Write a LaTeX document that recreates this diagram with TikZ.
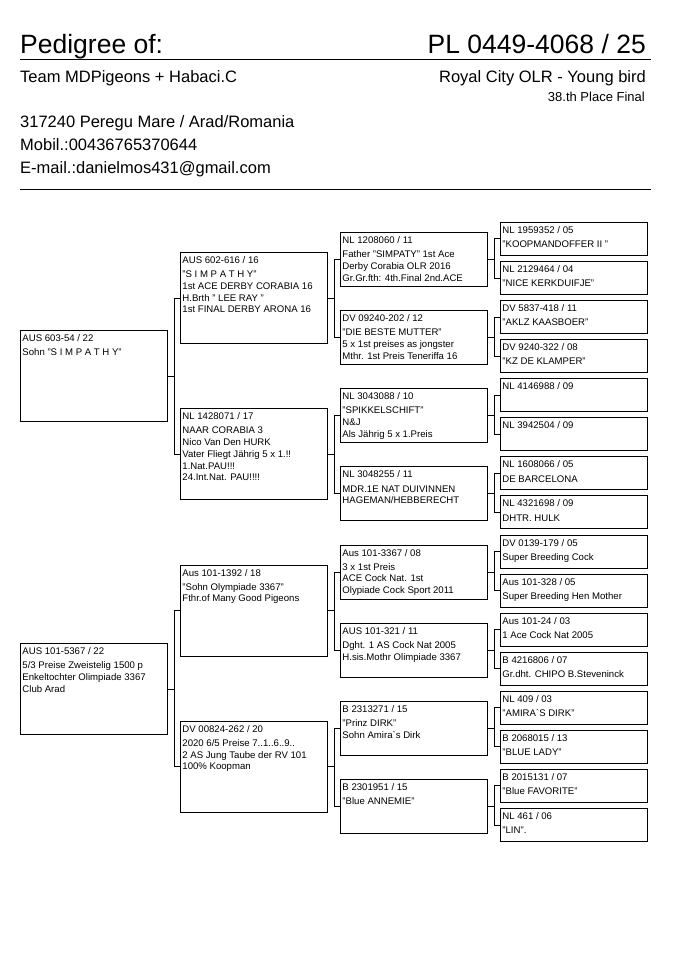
\documentclass[tikz,border=0pt]{standalone}
\usepackage{fontspec}
\setmainfont{Liberation Sans}
\usetikzlibrary{positioning}

\begin{document}
\begin{tikzpicture}[x=1pt,y=-1pt,
  bird/.style={draw, line width=0.9pt, inner xsep=2pt, inner ysep=0pt, anchor=north west,
    font=\fontsize{9.6}{11.7}\selectfont,
    execute at begin node={\begin{minipage}[c][#1][t]{143pt}\raggedright\rule{0pt}{11pt}},
    execute at end node={\end{minipage}}},
  gen1/.style={bird=91pt}, gen2/.style={bird=91pt},
  gen3/.style={bird=54pt}, gen4/.style={bird=33pt},
  link/.style={line width=0.9pt},
  head/.style={inner sep=0pt, font=\fontsize{26.5}{30}\selectfont},
  info/.style={inner sep=0pt, font=\fontsize{16.5}{20}\selectfont}]
\fill[white] (0,0) rectangle (685,968);
% header
\node[head, anchor=base west] (title) at (20,54) {Pedigree of:};
\node[head, anchor=base east] (ring) at (646,54) {PL 0449-4068 / 25};
\draw[line width=1pt] (20,60) -- (651,60);
\node[info, anchor=base west] (owner) at (20,83) {Team MDPigeons + Habaci.C};
\node[info, anchor=base east] (race) at (646,83) {Royal City OLR - Young bird};
\node[inner sep=0pt, anchor=base east, font=\fontsize{13}{15}\selectfont] (place) at (645,101.5) {38.th Place Final};
\node[info, anchor=base west] (address) at (20,128) {317240 Peregu Mare / Arad/Romania};
\node[info, anchor=base west] (phone) at (20,151) {Mobil.:00436765370644};
\node[info, anchor=base west] (mail) at (20,174) {E-mail.:danielmos431@gmail.com};
\draw[line width=1pt] (20,190) -- (651,190);
% parents
\node[gen1] (s) at (20,330) {AUS 603-54 / 22\\[2.5pt]Sohn "S I M P A T H Y"};
\node[gen1] (d) at (20,643) {AUS 101-5367 / 22\\[2.5pt]5/3 Preise Zweistelig 1500 p\\Enkeltochter Olimpiade 3367\\Club Arad};
% grandparents
\node[gen2] (ss) at (180,252) {AUS 602-616 / 16\\[2.5pt]"S I M P A T H Y"\\1st ACE DERBY CORABIA 16\\H.Brth " LEE RAY "\\1st FINAL DERBY ARONA 16};
\node[gen2] (sd) at (180,408.3) {NL 1428071 / 17\\[2.5pt]NAAR CORABIA 3\\Nico Van Den HURK\\Vater Fliegt Jährig 5 x 1.!!\\1.Nat.PAU!!!\\24.Int.Nat. PAU!!!!};
\node[gen2] (ds) at (180,564.6) {Aus 101-1392 / 18\\[2.5pt]"Sohn Olympiade 3367"\\Fthr.of Many Good Pigeons};
\node[gen2] (dd) at (180,720.9) {DV 00824-262 / 20\\[2.5pt]2020 6/5 Preise 7..1..6..9..\\2 AS Jung Taube der RV 101\\100\% Koopman};
% great-grandparents
\node[gen3] (sss) at (340,232) {NL 1208060 / 11\\[2.5pt]Father "SIMPATY" 1st Ace\\Derby Corabia OLR 2016\\Gr.Gr.fth: 4th.Final 2nd.ACE};
\node[gen3] (ssd) at (340,310.15) {DV 09240-202 / 12\\[2.5pt]"DIE BESTE MUTTER"\\5 x 1st preises as jongster\\Mthr. 1st Preis Teneriffa 16};
\node[gen3] (sds) at (340,388.3) {NL 3043088 / 10\\[2.5pt]"SPIKKELSCHIFT"\\N\&J\\Als Jährig 5 x 1.Preis};
\node[gen3] (sdd) at (340,466.45) {NL 3048255 / 11\\[2.5pt]MDR.1E NAT DUIVINNEN\\HAGEMAN/HEBBERECHT};
\node[gen3] (dss) at (340,544.6) {Aus 101-3367 / 08\\[2.5pt]3 x 1st Preis\\ACE Cock Nat. 1st\\Olypiade Cock Sport 2011};
\node[gen3] (dsd) at (340,622.75) {AUS 101-321 / 11\\[2.5pt]Dght. 1 AS Cock Nat 2005\\H.sis.Mothr Olimpiade 3367};
\node[gen3] (dds) at (340,700.9) {B 2313271 / 15\\[2.5pt]"Prinz DIRK"\\Sohn Amira\textasciigrave s Dirk};
\node[gen3] (ddd) at (340,779.05) {B 2301951 / 15\\[2.5pt]"Blue ANNEMIE"};
% great-great-grandparents
\node[gen4] (ssss) at (500,222) {NL 1959352 / 05\\[2.5pt]"KOOPMANDOFFER II "};
\node[gen4] (sssd) at (500,261.07) {NL 2129464 / 04\\[2.5pt]"NICE KERKDUIFJE"};
\node[gen4] (ssds) at (500,300.14) {DV 5837-418 / 11\\[2.5pt]"AKLZ KAASBOER"};
\node[gen4] (ssdd) at (500,339.21) {DV 9240-322 / 08\\[2.5pt]"KZ DE KLAMPER"};
\node[gen4] (sdss) at (500,378.28) {NL 4146988 / 09};
\node[gen4] (sdsd) at (500,417.35) {NL 3942504 / 09};
\node[gen4] (sdds) at (500,456.42) {NL 1608066 / 05\\[2.5pt]DE BARCELONA};
\node[gen4] (sddd) at (500,495.49) {NL 4321698 / 09\\[2.5pt]DHTR. HULK};
\node[gen4] (dsss) at (500,534.56) {DV 0139-179 / 05\\[2.5pt]Super Breeding Cock};
\node[gen4] (dssd) at (500,573.63) {Aus 101-328 / 05\\[2.5pt]Super Breeding Hen Mother};
\node[gen4] (dsds) at (500,612.7) {Aus 101-24 / 03\\[2.5pt]1 Ace Cock Nat 2005};
\node[gen4] (dsdd) at (500,651.77) {B 4216806 / 07\\[2.5pt]Gr.dht. CHIPO B.Steveninck};
\node[gen4] (ddss) at (500,690.84) {NL 409 / 03\\[2.5pt]"AMIRA\textasciigrave S DIRK"};
\node[gen4] (ddsd) at (500,729.91) {B 2068015 / 13\\[2.5pt]"BLUE LADY"};
\node[gen4] (ddds) at (500,768.98) {B 2015131 / 07\\[2.5pt]"Blue FAVORITE"};
\node[gen4] (dddd) at (500,808.05) {NL 461 / 06\\[2.5pt]"LIN".};
% links from each bird to its sire and dam
\foreach \p in {s,d,ss,sd,ds,dd,sss,ssd,sds,sdd,dss,dsd,dds,ddd}
  \draw[link] (\p.east) -- ++(6.5,0) |- (\p s.west)
              (\p.east) -- ++(6.5,0) |- (\p d.west);
\end{tikzpicture}
\end{document}
